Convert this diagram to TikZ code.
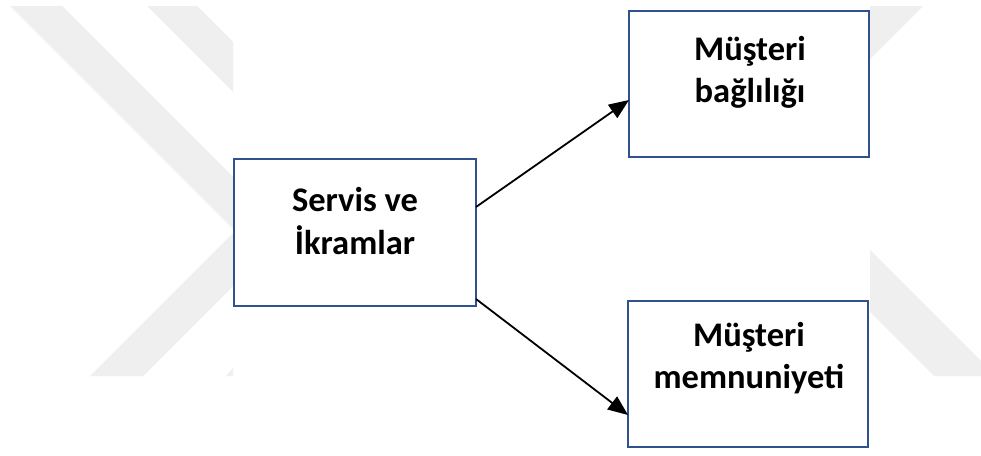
\documentclass[tikz,border=0pt]{standalone}
\usepackage{fontspec}
\setmainfont{Carlito}
\usetikzlibrary{arrows.meta}
\definecolor{boxline}{HTML}{2F528F}
\definecolor{wmark}{HTML}{EFEFEF}
\tikzset{
  box/.style={draw=boxline, line width=1.3pt, fill=white, inner sep=0pt, outer sep=0pt},
  lbl/.style={font=\fontsize{34.5}{42.5}\selectfont\bfseries, align=center, inner sep=0pt},
  arr/.style={draw=black, line width=1.8pt, -{Triangle[length=20pt,width=16pt]}},
  wm/.style={fill=wmark, draw=none}
}
\begin{document}
\begin{tikzpicture}[x=1pt, y=-1pt]
  % canvas
  \useasboundingbox (0,0) rectangle (981,455);
  \fill[white] (0,0) rectangle (981,455);

  % faint background emblem, left part
  \fill[wm] (10,6) -- (62,6) -- (233,177) -- (233,286) -- (143,376) -- (90,376)
            -- (233,233) -- (233,229) -- cycle;
  \fill[wm] (147,6) -- (197,6) -- (233,42) -- (233,92) -- cycle;
  \fill[wm] (226,376) -- (233,376) -- (233,368) -- cycle;
  % faint background emblem, right part
  \fill[wm] (870,6) -- (923,6) -- (870,59) -- cycle;
  \fill[wm] (870,250) -- (981,361) -- (981,376) -- (934,376) -- (870,312) -- cycle;

  % boxes
  \node[box, minimum width=242pt, minimum height=147pt] (serv) at (355,232.5) {};
  \node[box, minimum width=240pt, minimum height=146pt] (bag)  at (749,84) {};
  \node[box, minimum width=240pt, minimum height=146pt] (memn) at (748,374) {};

  % labels (anchored on the baseline of the second line)
  \node[lbl, anchor=base] (servt) at (355,254) {Servis ve\\İkramlar};
  \node[lbl, anchor=base] (bagt)  at (750,102.5) {Müşteri\\bağlılığı};
  \node[lbl, anchor=base] (memnt) at (749,388.5) {Müşteri\\memnuniyeti};

  % connectors
  \draw[arr] ([yshift=-48pt]serv.north east) -- ([yshift=-89pt]bag.north west);
  \draw[arr] ([yshift=7pt]serv.south east) -- ([yshift=32pt]memn.south west);
\end{tikzpicture}
\end{document}
